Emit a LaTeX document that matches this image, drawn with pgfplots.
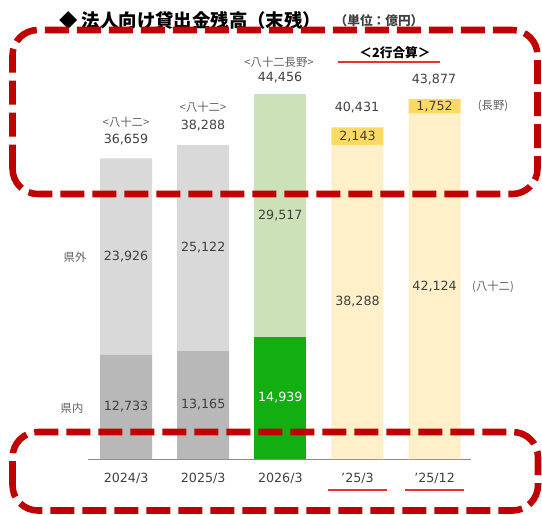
\documentclass[border=0pt]{standalone}
\usepackage{pgfplots}
\pgfplotsset{compat=1.18}
\usepackage{fontspec}
\setmainfont{DejaVu Sans}
\newfontfamily\jpfont{Noto Sans CJK JP}
\definecolor{lgray}{HTML}{D9D9D9}
\definecolor{dgray}{HTML}{B8B8B8}
\definecolor{lgreen}{HTML}{CCE1B8}
\definecolor{dgreen}{HTML}{12AE12}
\definecolor{lyellow}{HTML}{FFF0C9}
\definecolor{orangey}{HTML}{FFD966}
\definecolor{txtc}{HTML}{404040}
\definecolor{smc}{HTML}{606060}
\definecolor{dred}{HTML}{C00000}
\definecolor{ulred}{HTML}{F03030}
\tikzset{vl/.style={font=\fontsize{9.5}{11}\selectfont, text=txtc},
  sm/.style={font=\jpfont\fontsize{8.5}{10}\selectfont, text=smc}}
\begin{document}
\begin{tikzpicture}[x=0.75pt,y=0.75pt]
\path[use as bounding box] (0,0) rectangle (542,514);
\begin{axis}[at={(88pt*0.75,55pt*0.75)}, anchor=south west, scale only axis,
  width=287pt, height=307.5pt,
  xmin=-0.494, xmax=4.468, ymin=0, ymax=50000,
  ybar stacked, bar width=39pt,
  axis x line*=bottom, hide y axis,
  x axis line style={draw=gray!90, line width=0.7pt},
  xtick={0,1,2,3,4}, xticklabels={2024/3,2025/3,2026/3,’25/3,’25/12},
  major tick length=0pt,
  xticklabel style={font=\fontsize{9.5}{11}\selectfont, text=txtc, yshift=-7pt},
  clip=false]
\addplot[fill=dgray, draw=none] coordinates {(0,12733) (1,13165) (2,0) (3,0) (4,0)};
\addplot[fill=dgreen, draw=none] coordinates {(0,0) (1,0) (2,14939) (3,0) (4,0)};
\addplot[fill=lyellow, draw=none] coordinates {(0,0) (1,0) (2,0) (3,38288) (4,42124)};
\addplot[fill=lgray, draw=none] coordinates {(0,23926) (1,25122) (2,0) (3,0) (4,0)};
\addplot[fill=lgreen, draw=none] coordinates {(0,0) (1,0) (2,29517) (3,0) (4,0)};
\addplot[fill=orangey, draw=none] coordinates {(0,0) (1,0) (2,0) (3,2143) (4,1752)};
\end{axis}
% segment value labels (x = 126 + 77.12 i, y = 55 + 0.0082 v)
\node[vl] at (126.1,107.2) {12,733};
\node[vl] at (203.2,109.0) {13,165};
\node[vl, text=white] at (280.3,116.8) {14,939};
\node[vl] at (357.5,212.0) {38,288};
\node[vl] at (434.6,227.7) {42,124};
\node[vl] at (126.1,257.5) {23,926};
\node[vl] at (203.2,266.5) {25,122};
\node[vl] at (280.3,298.5) {29,517};
\node[vl] at (357.5,377.7) {2,143};
\node[vl] at (434.6,407.6) {1,752};
% totals and notes
\node[vl] at (126,374) {36,659};
\node[vl] at (203,388) {38,288};
\node[vl] at (280,436) {44,456};
\node[vl] at (357,406) {40,431};
\node[vl] at (434,434) {43,877};
\node[sm] at (126,392) {<八十二>};
\node[sm] at (203,407) {<八十二>};
\node[sm] at (279,452) {<八十二長野>};
\node[sm] at (493,408) {(長野)};
\node[sm] at (493,227) {(八十二)};
\node[sm] at (75,257) {県外};
\node[sm] at (72,106) {県内};
\node[font=\jpfont\bfseries\fontsize{9.5}{11}\selectfont, text=black] at (395,461) {＜2行合算＞};
\draw[ulred, line width=0.8pt] (338,452) -- (440,452);
\draw[ulred, line width=0.8pt] (328,24) -- (387,24);
\draw[ulred, line width=0.8pt] (405,24) -- (464,24);
\node[anchor=west, font=\jpfont\bfseries\fontsize{13.8}{16}\selectfont, inner sep=0pt] at (59,493) {◆ 法人向け貸出金残高（末残）};
\node[font=\jpfont\bfseries\fontsize{9.5}{11}\selectfont, text=txtc] at (379,493) {（単位：億円）};
\draw[dred, line width=4.9pt, rounded corners=19pt, dash pattern=on 18pt off 6pt] (12.5,320) rectangle (537.5,484);
\draw[dred, line width=4.9pt, rounded corners=19pt, dash pattern=on 18pt off 6pt] (12.5,3.5) rectangle (538,82);
\end{tikzpicture}
\end{document}
